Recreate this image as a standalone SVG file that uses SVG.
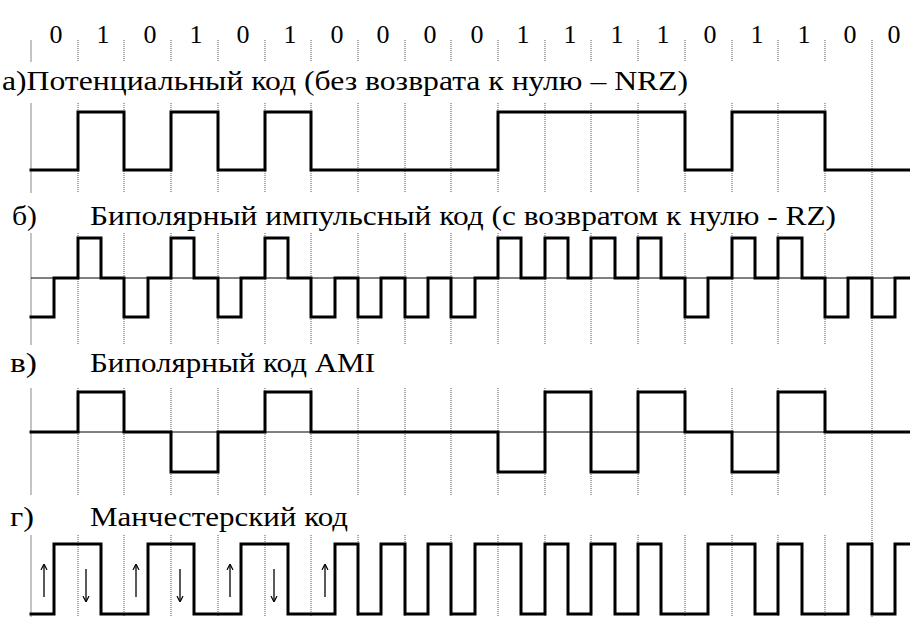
<svg xmlns="http://www.w3.org/2000/svg" xmlns:xlink="http://www.w3.org/1999/xlink" width="910" height="624" viewBox="0 0 910 624">
<style>
.grid{fill:none;stroke:#555;stroke-width:1;stroke-dasharray:1 1}
.axis{fill:none;stroke:#888;stroke-width:1}
.wave{fill:none;stroke:#000;stroke-width:3;stroke-linejoin:miter;stroke-linecap:square}
.zero{fill:none;stroke:#000;stroke-width:1}
.arr{fill:none;stroke:#000;stroke-width:1.3}
.t{font-family:'Liberation Serif',serif;font-size:27px;fill:#000}
.d{font-family:'Liberation Serif',serif;font-size:26px;text-anchor:middle;fill:#000}
</style>
<defs>
<path id="gseg" d="M0,40V62M0,103V193M0,233V345M0,388V495M0,535V617"/>
<marker id="ah" viewBox="0 0 6 8" refX="5" refY="4" markerWidth="6" markerHeight="8" markerUnits="userSpaceOnUse" orient="auto">
<path d="M0,1 L6,4 L0,7" fill="none" stroke="#000" stroke-width="1.2"/>
</marker>
</defs>
<rect width="910" height="624" fill="#fff"/>

<g id="grid">
<use xlink:href="#gseg" class="axis" x="31"/>
<use xlink:href="#gseg" class="grid" x="78"/>
<use xlink:href="#gseg" class="grid" x="124"/>
<use xlink:href="#gseg" class="grid" x="171"/>
<use xlink:href="#gseg" class="grid" x="218"/>
<use xlink:href="#gseg" class="grid" x="265"/>
<use xlink:href="#gseg" class="grid" x="311"/>
<use xlink:href="#gseg" class="grid" x="358"/>
<use xlink:href="#gseg" class="grid" x="405"/>
<use xlink:href="#gseg" class="grid" x="451"/>
<use xlink:href="#gseg" class="grid" x="498"/>
<use xlink:href="#gseg" class="grid" x="545"/>
<use xlink:href="#gseg" class="grid" x="591"/>
<use xlink:href="#gseg" class="grid" x="638"/>
<use xlink:href="#gseg" class="grid" x="685"/>
<use xlink:href="#gseg" class="grid" x="732"/>
<use xlink:href="#gseg" class="grid" x="778"/>
<use xlink:href="#gseg" class="grid" x="825"/>
<path class="grid" d="M872,40V617"/>
</g>

<g id="bits">
<text class="d" x="56" y="43">0</text>
<text class="d" x="103" y="43">1</text>
<text class="d" x="150" y="43">0</text>
<text class="d" x="196" y="43">1</text>
<text class="d" x="243" y="43">0</text>
<text class="d" x="290" y="43">1</text>
<text class="d" x="337" y="43">0</text>
<text class="d" x="383" y="43">0</text>
<text class="d" x="430" y="43">0</text>
<text class="d" x="477" y="43">0</text>
<text class="d" x="523" y="43">1</text>
<text class="d" x="570" y="43">1</text>
<text class="d" x="617" y="43">1</text>
<text class="d" x="663" y="43">1</text>
<text class="d" x="710" y="43">0</text>
<text class="d" x="757" y="43">1</text>
<text class="d" x="804" y="43">1</text>
<text class="d" x="850" y="43">0</text>
<text class="d" x="894" y="43">0</text>
</g>

<g id="nrz">
<text class="t" x="2" y="90" textLength="686" lengthAdjust="spacingAndGlyphs">а)Потенциальный код (без возврата к нулю – NRZ)</text>
<path class="wave" d="M31,170H78V112H124V170H171V112H218V170H265V112H311V170H498V112H685V170H732V112H825V170H910"/>
</g>

<g id="rz">
<text class="t" x="12" y="225" textLength="25" lengthAdjust="spacingAndGlyphs">б)</text>
<text class="t" x="90" y="225" textLength="746" lengthAdjust="spacingAndGlyphs">Биполярный импульсный код (с возвратом к нулю - RZ)</text>
<path class="zero" d="M31,278H910"/>
<path class="wave" d="M31,317H54V278H78V238H101V278H124V317H148V278H171V238H194V278H218V317H241V278H265V238H288V278H311V317H335V278H358V317H381V278H405V317H428V278H451V317H475V278H498V238H521V278H545V238H568V278H591V238H615V278H638V238H661V278H685V317H708V278H732V238H755V278H778V238H802V278H825V317H848V278H872V317H895V278H910"/>
</g>

<g id="ami">
<text class="t" x="10" y="372" textLength="27" lengthAdjust="spacingAndGlyphs">в)</text>
<text class="t" x="90" y="372" textLength="285" lengthAdjust="spacingAndGlyphs">Биполярный код AMI</text>
<path class="zero" d="M31,432H910"/>
<path class="wave" d="M31,432H78V392H124V432H171V472H218V432H265V392H311V432H498V472H545V392H591V472H638V392H685V432H732V472H778V392H825V432H910"/>
</g>

<g id="manchester">
<text class="t" x="10" y="526" textLength="24" lengthAdjust="spacingAndGlyphs">г)</text>
<text class="t" x="90" y="526" textLength="258" lengthAdjust="spacingAndGlyphs">Манчестерский код</text>
<path class="wave" d="M31,614H54V544H101V614H148V544H194V614H241V544H288V614H335V544H358V614H381V544H405V614H428V544H451V614H475V544H521V614H545V544H568V614H591V544H615V614H638V544H661V614H708V544H755V614H778V544H802V614H848V544H872V614H895V544H910"/>
<g id="arrows">
<path class="arr" marker-end="url(#ah)" d="M44,597V565"/>
<path class="arr" marker-end="url(#ah)" d="M136,597V565"/>
<path class="arr" marker-end="url(#ah)" d="M230,597V565"/>
<path class="arr" marker-end="url(#ah)" d="M325,597V565"/>
<path class="arr" marker-end="url(#ah)" d="M86,569V601"/>
<path class="arr" marker-end="url(#ah)" d="M180,569V601"/>
<path class="arr" marker-end="url(#ah)" d="M274,569V601"/>
</g>
</g>
</svg>
